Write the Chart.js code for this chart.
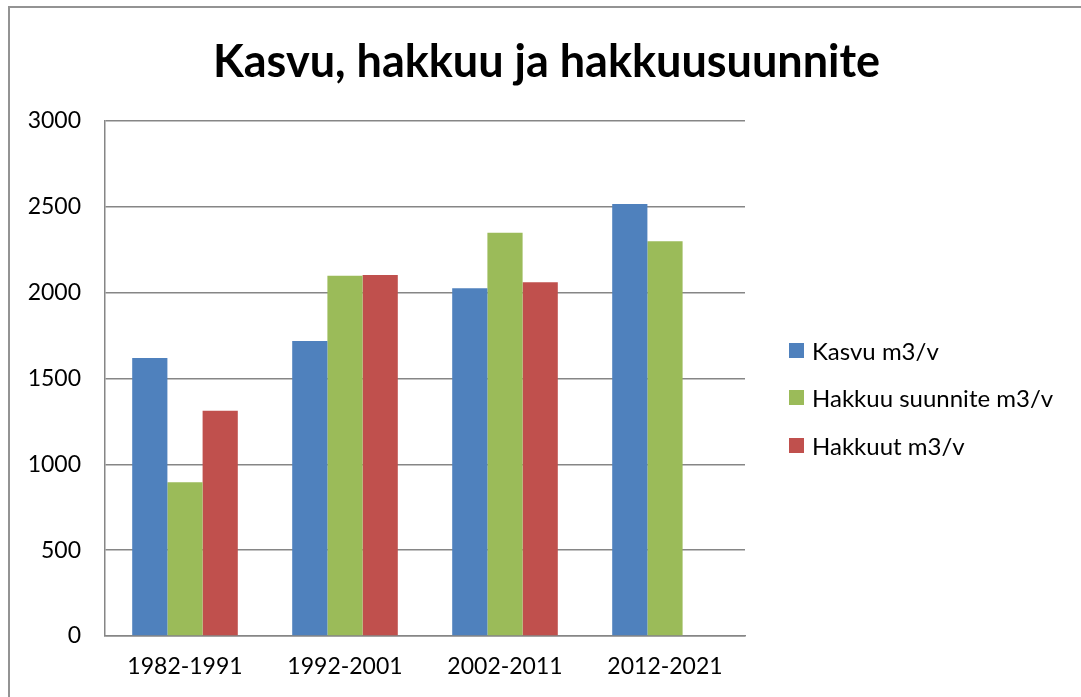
<!DOCTYPE html>
<html>
<head>
<meta charset="utf-8">
<script src="https://cdn.jsdelivr.net/npm/chart.js@4.4.0/dist/chart.umd.min.js"></script>
<style>
  html, body { margin: 0; padding: 0; background: #fff; }
  #wrap { position: relative; width: 1081px; height: 697px; overflow: hidden; }
  #frame { position: absolute; left: 8px; top: 6px; width: 1100px; height: 720px;
           border: 2px solid #939393; pointer-events: none; }
  #legend { position: absolute; left: 789px; top: 335px; font-family: Lato, "Noto Sans", sans-serif;
            font-size: 24px; color: #000; }
  .item { display: flex; align-items: center; height: 30px; margin-bottom: 17.5px; white-space: nowrap; }
  .swatch { width: 15px; height: 15px; margin-right: 8px; flex: none; }
</style>
</head>
<body>
<div id="wrap">
  <canvas id="myChart" width="1081" height="697"></canvas>
  <div id="legend"></div>
  <div id="frame"></div>
</div>
<script>
const periods = ['1982-1991', '1992-2001', '2002-2011', '2012-2021'];
const kasvu = [1620, 1718, 2026, 2516];
const hakkuuSuunnite = [895, 2099, 2349, 2299];
const hakkuut = [1312, 2103, 2060, null];
const yTicks = [0, 500, 1000, 1500, 2000, 2500, 3000];

const ctx = document.getElementById('myChart');
const FONT = 'Lato, "Noto Sans", sans-serif';

const myChart = new Chart(ctx, {
  type: 'bar',
  data: {
    labels: periods,
    datasets: [
      { label: 'Kasvu m3/v', data: kasvu, backgroundColor: '#4f81bd' },
      { label: 'Hakkuu suunnite m3/v', data: hakkuuSuunnite, backgroundColor: '#9bbb59' },
      { label: 'Hakkuut m3/v', data: hakkuut, backgroundColor: '#c0504d' }
    ]
  },
  options: {
    responsive: false,
    animation: false,
    categoryPercentage: 0.66,
    barPercentage: 1,
    layout: { padding: { left: 12, right: 0, top: 0, bottom: 0 } },
    plugins: {
      title: {
        display: true,
        text: 'Kasvu, hakkuu ja hakkuusuunnite',
        color: '#000',
        font: { family: FONT, size: 45, weight: 'bold', lineHeight: 1.2 },
        padding: { top: 35, bottom: 32 }
      },
      legend: { display: false },
      tooltip: { enabled: false }
    },
    scales: {
      x: {
        grid: { display: false, drawTicks: false },
        border: { display: true, color: '#868686', width: 1.5 },
        ticks: { color: '#000', font: { family: FONT, size: 23 }, padding: 17 },
        afterFit: s => { s.height = 61; }
      },
      y: {
        min: 0,
        max: 3000,
        afterBuildTicks: s => { s.ticks = yTicks.map(v => ({ value: v })); },
        grid: { color: '#868686', lineWidth: 1.5, drawTicks: false },
        border: { display: true, color: '#868686', width: 1.5 },
        ticks: { color: '#000', font: { family: FONT, size: 23 }, padding: 24, callback: v => String(v) },
        afterFit: s => { s.width = 93; }
      },
      gap: {
        position: 'right',
        display: true,
        grid: { display: false, drawTicks: false },
        border: { display: false },
        ticks: { display: false },
        afterFit: s => { s.width = 336; }
      }
    }
  }
});

const legend = document.getElementById('legend');
myChart.data.datasets.forEach(ds => {
  legend.innerHTML += `<div class="item"><span class="swatch" style="background:${ds.backgroundColor}"></span>${ds.label}</div>`;
});
</script>
</body>
</html>
